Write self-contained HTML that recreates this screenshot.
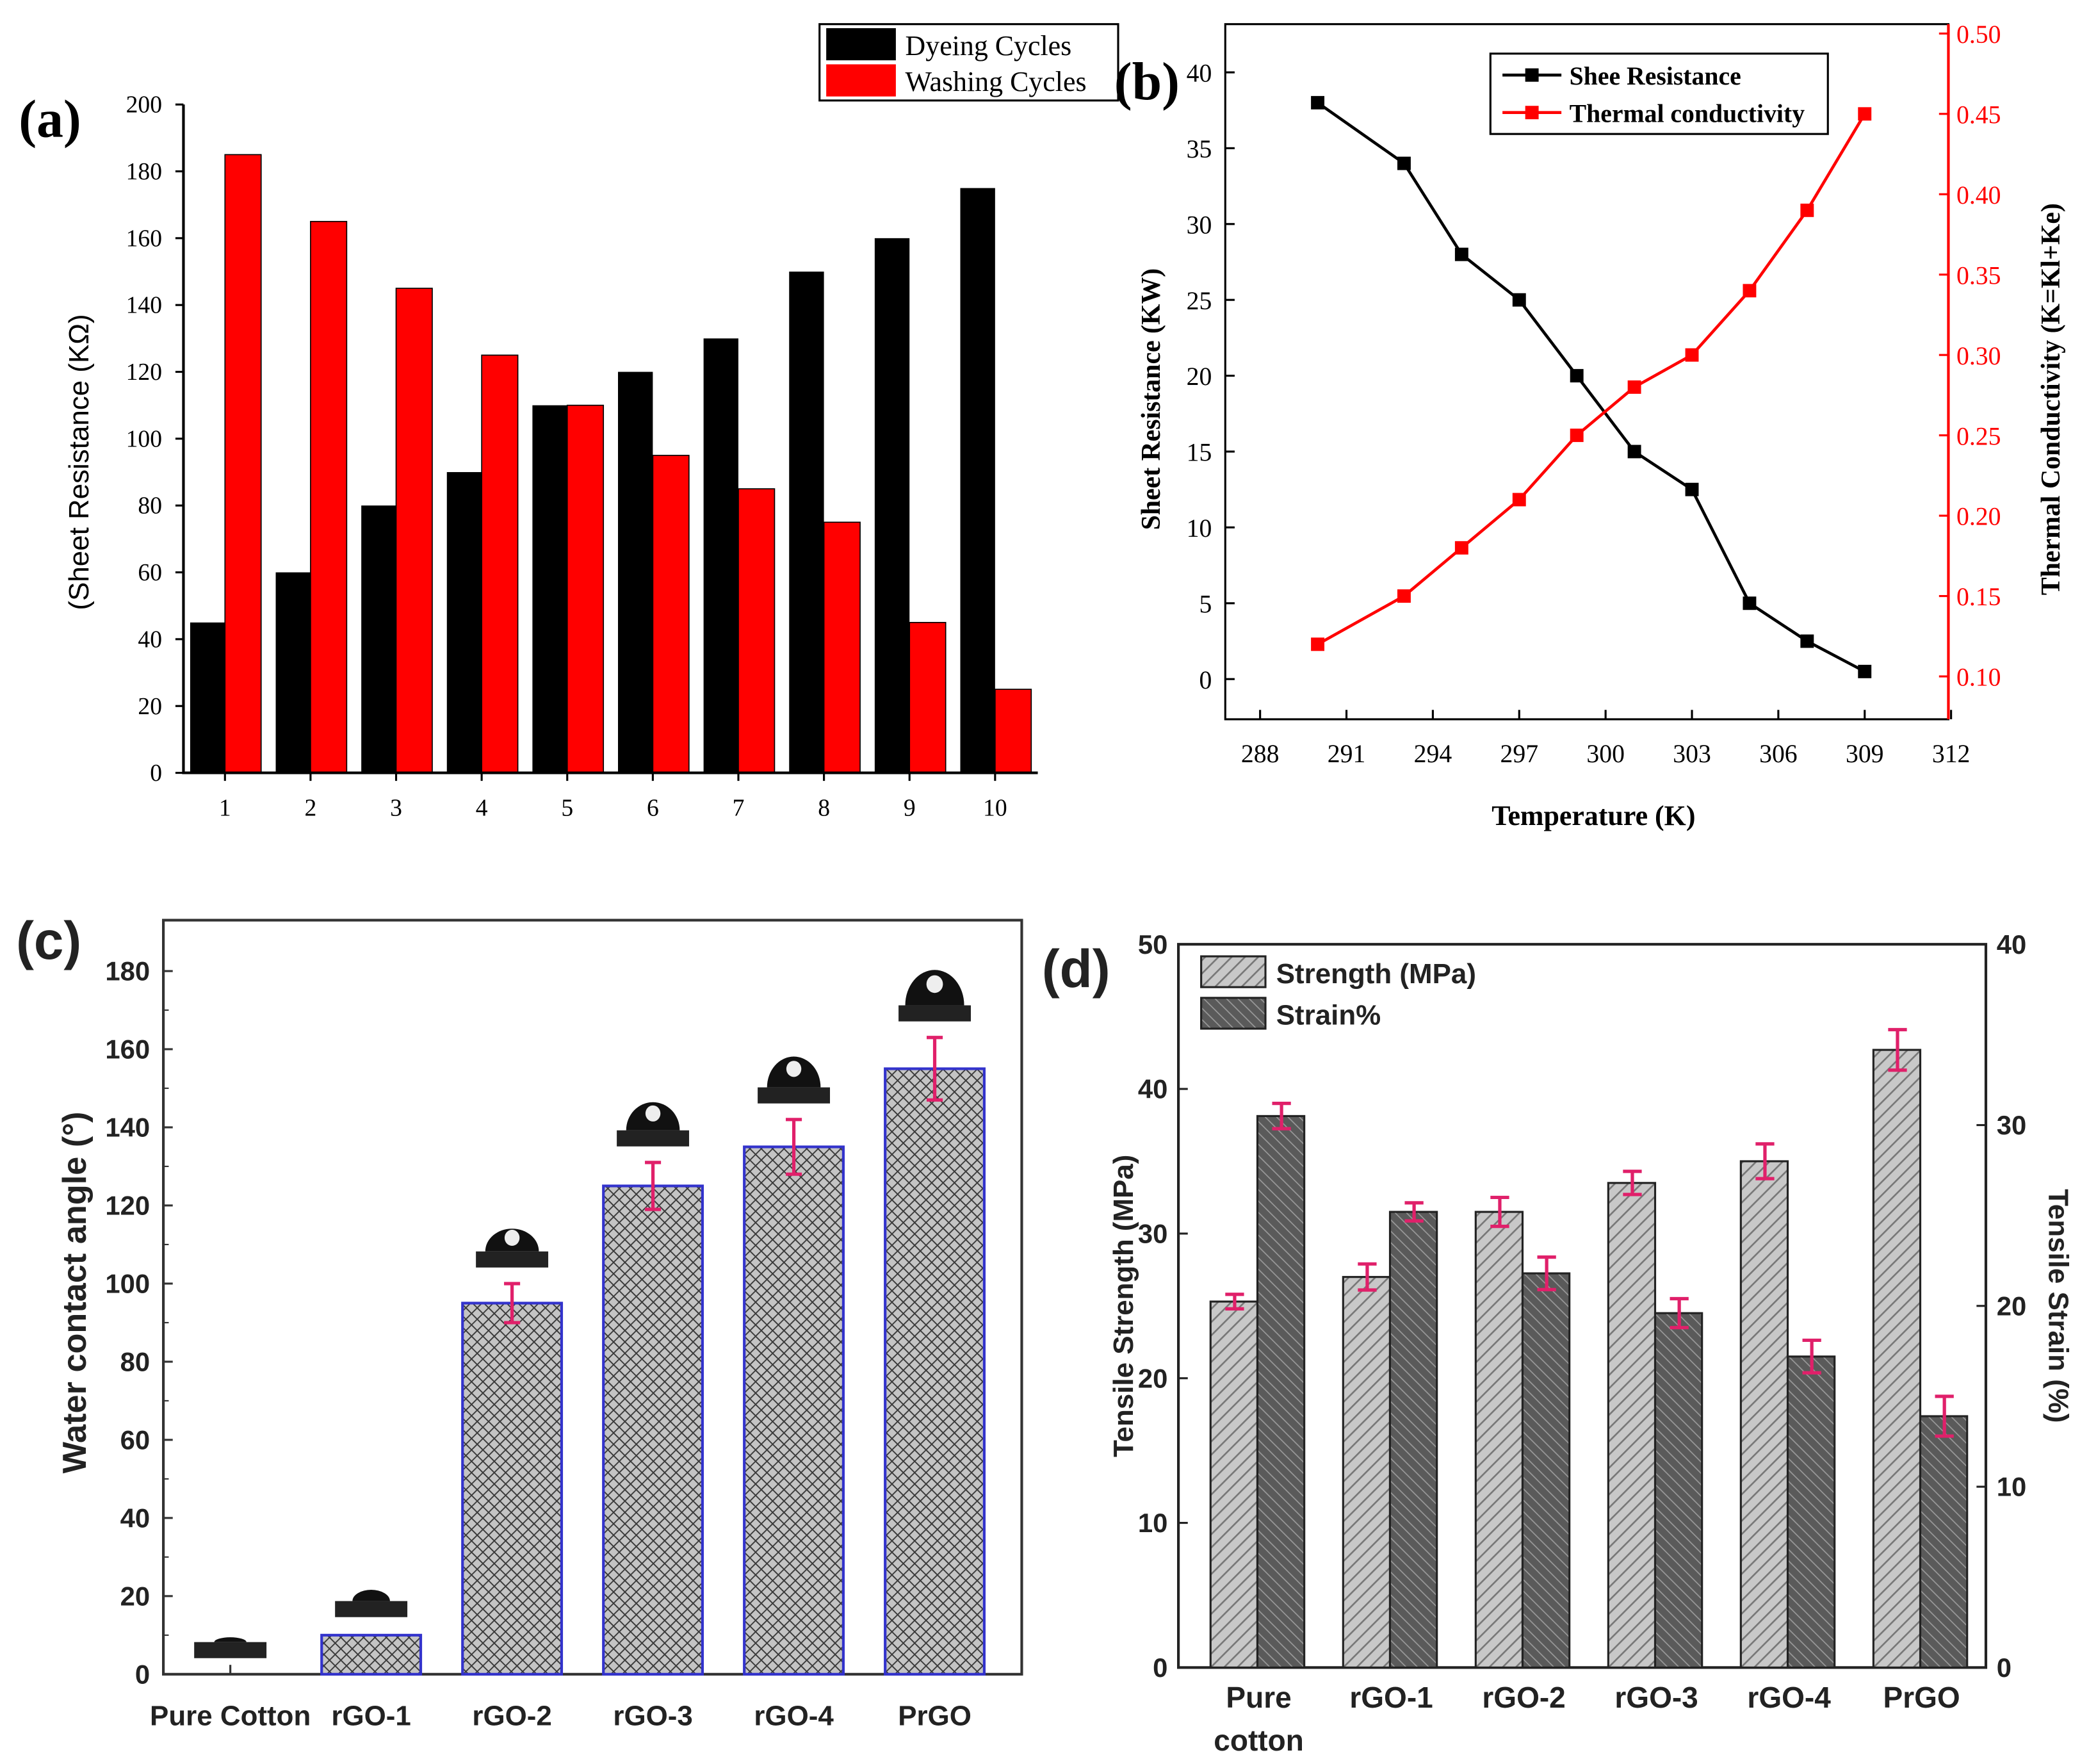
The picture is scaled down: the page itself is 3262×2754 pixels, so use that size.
<!DOCTYPE html>
<html><head><meta charset="utf-8"><style>
html,body{margin:0;padding:0;background:#fff;}
svg{display:block;}
.serif{font-family:"Liberation Serif",serif;}
.sans{font-family:"Liberation Sans",sans-serif;font-weight:bold;}
</style></head><body>
<svg id="fig" xmlns="http://www.w3.org/2000/svg" width="3262" height="2754" viewBox="0 0 1560 1317">
<defs>
<pattern id="cross" width="6" height="6" patternUnits="userSpaceOnUse" patternTransform="rotate(45)">
<rect width="6" height="6" fill="#c4c4c4"/><path d="M0 0H6M0 0V6" stroke="#3a3a3a" stroke-width="1.8"/></pattern>
<pattern id="hatchL" width="7" height="7" patternUnits="userSpaceOnUse" patternTransform="rotate(45)">
<rect width="7" height="7" fill="#c8c8c8"/><path d="M0 0V7" stroke="#777" stroke-width="2.5"/></pattern>
<pattern id="hatchD" width="6" height="6" patternUnits="userSpaceOnUse" patternTransform="rotate(-45)">
<rect width="6" height="6" fill="#5a5a5a"/><path d="M0 0V6" stroke="#9a9a9a" stroke-width="1.6"/></pattern>
</defs>
<g id="pa"></g>
<g id="pb"></g>
<g id="pc"></g>
<g id="pd"></g>
</svg>
<script>
// Panel a data
const aCats = [1,2,3,4,5,6,7,8,9,10];
const aDyeing = [45,60,80,90,110,120,130,150,160,175];
const aWashing = [185,165,145,125,110,95,85,75,45,25];
const aTicks = [0,20,40,60,80,100,120,140,160,180,200];
// Panel b data
const bTemps = [290,293,295,297,299,301,303,305,307,309];
const bResist = [38,34,28,25,20,15,12.5,5,2.5,0.5];
const bTherm = [0.12,0.15,0.18,0.21,0.25,0.28,0.30,0.34,0.39,0.45];
const bXTicks = [288,291,294,297,300,303,306,309,312];
const bYTicks = [0,5,10,15,20,25,30,35,40];
const bY2Ticks = [0.10,0.15,0.20,0.25,0.30,0.35,0.40,0.45,0.50];
// Panel c data
const cCats = ["Pure Cotton","rGO-1","rGO-2","rGO-3","rGO-4","PrGO"];
const cAngle = [0,10,95,125,135,155];
const cErr = [0,0.5,5,6,7,8];
const cTicks = [0,20,40,60,80,100,120,140,160,180];
// Panel d data
const dCats = ["Pure|cotton","rGO-1","rGO-2","rGO-3","rGO-4","PrGO"];
const dStrength = [25.3,27,31.5,33.5,35,42.7];
const dStrengthErr = [0.5,0.9,1.0,0.8,1.2,1.4];
const dStrain = [30.5,25.2,21.8,19.6,17.2,13.9];
const dStrainErr = [0.7,0.5,0.9,0.8,0.9,1.1];
const dYTicks = [0,10,20,30,40,50];
const dY2Ticks = [0,10,20,30,40];

const NS="http://www.w3.org/2000/svg";
function mk(parent,tag,attrs,text){const e=document.createElementNS(NS,tag);for(const k in attrs)e.setAttribute(k,attrs[k]);if(text!==undefined)e.textContent=text;parent.appendChild(e);return e;}

// ---------- Panel A ----------
(function(){
const g=document.getElementById('pa');
const x0=137,x1=775,y0=577,yTop=78;
const ya=v=>y0-(v/200)*(y0-yTop);
const xc=i=>168+i*63.9;
let e;
aCats.forEach((c,i)=>{
 e=mk(g,'rect',{x:xc(i)-26,y:ya(aDyeing[i]),width:26,height:y0-ya(aDyeing[i]),fill:'#000'});
 
 
 e=mk(g,'rect',{x:xc(i),y:ya(aWashing[i]),width:27,height:y0-ya(aWashing[i]),fill:'#f00',stroke:'#000','stroke-width':0.8});
 
 
 e=mk(g,'line',{x1:xc(i),x2:xc(i),y1:y0,y2:y0+6,stroke:'#000','stroke-width':1.5});
 e=mk(g,'text',{x:xc(i),y:y0+32,'text-anchor':'middle','font-size':18,class:'serif'},c);
 
 
});
e=mk(g,'path',{d:`M${x0} ${yTop}V${y0}H${x1}`,fill:'none',stroke:'#000','stroke-width':2});


aTicks.forEach(t=>{
 mk(g,'line',{x1:x0-6,x2:x0,y1:ya(t),y2:ya(t),stroke:'#000','stroke-width':1.5});
 e=mk(g,'text',{x:x0-16,y:ya(t)+6,'text-anchor':'end','font-size':18,class:'serif'},t);
 
 
});
e=mk(g,'text',{x:0,y:0,transform:'translate(66,345) rotate(-90)','text-anchor':'middle','font-size':21,'font-family':'Liberation Sans, sans-serif'},'(Sheet Resistance (KΩ)');


e=mk(g,'text',{x:14,y:102,'font-size':40,'font-weight':'bold',class:'serif'},'(a)');


e=mk(g,'rect',{x:612,y:18,width:223,height:57,fill:'#fff',stroke:'#000','stroke-width':1.5});


mk(g,'rect',{x:617,y:21,width:52,height:24,fill:'#000'});
mk(g,'rect',{x:617,y:48,width:52,height:24,fill:'#f00'});
e=mk(g,'text',{x:676,y:41,'font-size':21,class:'serif'},'Dyeing Cycles');


e=mk(g,'text',{x:676,y:68,'font-size':21,class:'serif'},'Washing Cycles');


})();

// ---------- Panel B ----------
(function(){
const g=document.getElementById('pb');
const L=915,R=1455,T=18,B=537;
const xb=v=>941+(v-288)*(1457-941)/24;
const yl=v=>507-v*(507-54)/40;
const yr=v=>505-(v-0.10)*(505-25)/0.40;
let e;
e=mk(g,'rect',{x:L,y:T,width:R-L,height:B-T,fill:'none',stroke:'#000','stroke-width':1.5});


mk(g,'line',{x1:R,x2:R,y1:T,y2:B,stroke:'#f00','stroke-width':2});
bXTicks.forEach(t=>{
 mk(g,'line',{x1:xb(t),x2:xb(t),y1:B,y2:B-7,stroke:'#000','stroke-width':1.5});
 e=mk(g,'text',{x:xb(t),y:B+32,'text-anchor':'middle','font-size':19,class:'serif'},t);
 
 
});
bYTicks.forEach(t=>{
 mk(g,'line',{x1:L,x2:L+7,y1:yl(t),y2:yl(t),stroke:'#000','stroke-width':1.5});
 e=mk(g,'text',{x:L-10,y:yl(t)+7,'text-anchor':'end','font-size':19,class:'serif'},t);
 
 
});
bY2Ticks.forEach(t=>{
 mk(g,'line',{x1:R,x2:R-7,y1:yr(t),y2:yr(t),stroke:'#f00','stroke-width':1.5});
 e=mk(g,'text',{x:R+6,y:yr(t)+7,'font-size':19,fill:'#f00',class:'serif'},t.toFixed(2));
 
 
});
e=mk(g,'polyline',{points:bTemps.map((t,i)=>xb(t)+','+yl(bResist[i])).join(' '),fill:'none',stroke:'#000','stroke-width':2.2});


e=mk(g,'polyline',{points:bTemps.map((t,i)=>xb(t)+','+yr(bTherm[i])).join(' '),fill:'none',stroke:'#f00','stroke-width':2.2});


bTemps.forEach((t,i)=>{
 e=mk(g,'rect',{x:xb(t)-5,y:yl(bResist[i])-5,width:10,height:10,fill:'#000'});
 
 
 e=mk(g,'rect',{x:xb(t)-5,y:yr(bTherm[i])-5,width:10,height:10,fill:'#f00'});
 
 
});
e=mk(g,'text',{x:1190,y:616,'text-anchor':'middle','font-size':21,'font-weight':'bold',class:'serif'},'Temperature (K)');


e=mk(g,'text',{x:0,y:0,transform:'translate(866,298) rotate(-90)','text-anchor':'middle','font-size':20,'font-weight':'bold',class:'serif'},'Sheet Resistance (KW)');


e=mk(g,'text',{x:0,y:0,transform:'translate(1538,298) rotate(-90)','text-anchor':'middle','font-size':20,'font-weight':'bold',class:'serif'},'Thermal Conductivity (K=Kl+Ke)');


e=mk(g,'text',{x:832,y:74,'font-size':40,'font-weight':'bold',class:'serif'},'(b)');


e=mk(g,'rect',{x:1113,y:40,width:252,height:60,fill:'#fff',stroke:'#000','stroke-width':1.5});


mk(g,'line',{x1:1122,x2:1166,y1:56,y2:56,stroke:'#000','stroke-width':2.2});
mk(g,'rect',{x:1139,y:51,width:10,height:10,fill:'#000'});
mk(g,'line',{x1:1122,x2:1166,y1:84,y2:84,stroke:'#f00','stroke-width':2.2});
mk(g,'rect',{x:1139,y:79,width:10,height:10,fill:'#f00'});
e=mk(g,'text',{x:1172,y:63,'font-size':19,'font-weight':'bold',class:'serif'},'Shee Resistance');


e=mk(g,'text',{x:1172,y:91,'font-size':19,'font-weight':'bold',class:'serif'},'Thermal conductivity');


})();

// ---------- Panel C ----------
(function(){
const g=document.getElementById('pc');
const L=122,R=763,T=687,B=1250;
const yc=v=>B-v*(B-725)/180;
const xc=i=>172+i*105.2;
let e;
e=mk(g,'rect',{x:L,y:T,width:R-L,height:B-T,fill:'none',stroke:'#333','stroke-width':2});


cTicks.forEach(t=>{
 mk(g,'line',{x1:L,x2:L+7,y1:yc(t),y2:yc(t),stroke:'#333','stroke-width':1.5});
 if(t<180) mk(g,'line',{x1:L,x2:L+4,y1:yc(t+10),y2:yc(t+10),stroke:'#333','stroke-width':1});
 e=mk(g,'text',{x:L-10,y:yc(t)+7,'text-anchor':'end','font-size':20,class:'sans',fill:'#222'},t);
 
 
});
cCats.forEach((c,i)=>{
 const x=xc(i);
 mk(g,'line',{x1:x,x2:x,y1:B,y2:B-7,stroke:'#333','stroke-width':1.5});
 e=mk(g,'text',{x:x,y:B+38,'text-anchor':'middle','font-size':21,class:'sans',fill:'#222'},c);
 
 
 if(cAngle[i]>0){
  e=mk(g,'rect',{x:x-37,y:yc(cAngle[i]),width:74,height:B-yc(cAngle[i]),fill:'url(#cross)',stroke:'#3333cc','stroke-width':2});
  
  
  if(cErr[i]>1){
   const y1=yc(cAngle[i]+cErr[i]),y2=yc(cAngle[i]-cErr[i]);
   e=mk(g,'path',{d:`M${x} ${y1}V${y2}M${x-6} ${y1}H${x+6}M${x-6} ${y2}H${x+6}`,stroke:'#e0206a','stroke-width':2.5,fill:'none'});
   
   
  }
 }
 const top=(cAngle[i]>0?yc(cAngle[i]+cErr[i]):B)-16;
 const r=[12,14,20,20,20,22][i];
 const sub=[0.3,0.6,0.85,1.05,1.15,1.2][i];
 const base=top-8;
 e=mk(g,'g',{});
 
 
 mk(e,'rect',{x:x-27,y:base,width:54,height:12,fill:'#222'});
 mk(e,'path',{d:`M${x-r} ${base} A${r} ${r*sub} 0 1 1 ${x+r} ${base} Z`,fill:'#111'});
 if(i>=2) mk(e,'ellipse',{cx:x,cy:base-r*sub*0.6,rx:r*0.28,ry:r*0.3,fill:'#eee'});
});
e=mk(g,'text',{x:0,y:0,transform:'translate(64,965) rotate(-90)','text-anchor':'middle','font-size':25,class:'sans',fill:'#222'},'Water contact angle (°)');


e=mk(g,'text',{x:12,y:716,'font-size':40,class:'sans',fill:'#222'},'(c)');


})();

// ---------- Panel D ----------
(function(){
const g=document.getElementById('pd');
const L=880,R=1483,T=705,B=1245;
const yl=v=>B-v*(B-T)/50;
const yr=v=>B-v*(B-T)/40;
const xc=i=>940+i*99;
let e;
e=mk(g,'rect',{x:L,y:T,width:R-L,height:B-T,fill:'none',stroke:'#222','stroke-width':2});


dYTicks.forEach(t=>{
 mk(g,'line',{x1:L,x2:L+7,y1:yl(t),y2:yl(t),stroke:'#222','stroke-width':1.5});
 e=mk(g,'text',{x:L-8,y:yl(t)+7,'text-anchor':'end','font-size':20,class:'sans',fill:'#222'},t);
 
 
});
dY2Ticks.forEach(t=>{
 mk(g,'line',{x1:R,x2:R-7,y1:yr(t),y2:yr(t),stroke:'#222','stroke-width':1.5});
 e=mk(g,'text',{x:R+8,y:yr(t)+7,'font-size':20,class:'sans',fill:'#222'},t);
 
 
});
function err(x,yv,ev,yf){
 const y1=yf(yv+ev),y2=yf(yv-ev);
 const p=mk(g,'path',{d:`M${x} ${y1}V${y2}M${x-7} ${y1}H${x+7}M${x-7} ${y2}H${x+7}`,stroke:'#e0206a','stroke-width':2.5,fill:'none'});
 
 
}
dCats.forEach((c,i)=>{
 const x=xc(i);
 e=mk(g,'rect',{x:x-36,y:yl(dStrength[i]),width:35,height:B-yl(dStrength[i]),fill:'url(#hatchL)',stroke:'#222','stroke-width':1.5});
 
 
 e=mk(g,'rect',{x:x-1,y:yr(dStrain[i]),width:35,height:B-yr(dStrain[i]),fill:'url(#hatchD)',stroke:'#222','stroke-width':1.5});
 
 
 err(x-18,dStrength[i],dStrengthErr[i],yl);
 err(x+17,dStrain[i],dStrainErr[i],yr);
 const parts=c.split('|');
 parts.forEach((p,k)=>{
  e=mk(g,'text',{x:x,y:B+30+k*32,'text-anchor':'middle','font-size':22,class:'sans',fill:'#222'},p);
  
  
 });
});
e=mk(g,'text',{x:0,y:0,transform:'translate(846,975) rotate(-90)','text-anchor':'middle','font-size':21,class:'sans',fill:'#222'},'Tensile Strength (MPa)');


e=mk(g,'text',{x:0,y:0,transform:'translate(1530,975) rotate(90)','text-anchor':'middle','font-size':21,class:'sans',fill:'#222'},'Tensile Strain (%)');


e=mk(g,'text',{x:778,y:737,'font-size':40,class:'sans',fill:'#222'},'(d)');


mk(g,'rect',{x:897,y:714,width:48,height:23,fill:'url(#hatchL)',stroke:'#222','stroke-width':1.5});
mk(g,'rect',{x:897,y:745,width:48,height:23,fill:'url(#hatchD)',stroke:'#222','stroke-width':1.5});
e=mk(g,'text',{x:953,y:734,'font-size':21,class:'sans',fill:'#222'},'Strength (MPa)');


e=mk(g,'text',{x:953,y:765,'font-size':21,class:'sans',fill:'#222'},'Strain%');


})();
</script>
</body></html>
